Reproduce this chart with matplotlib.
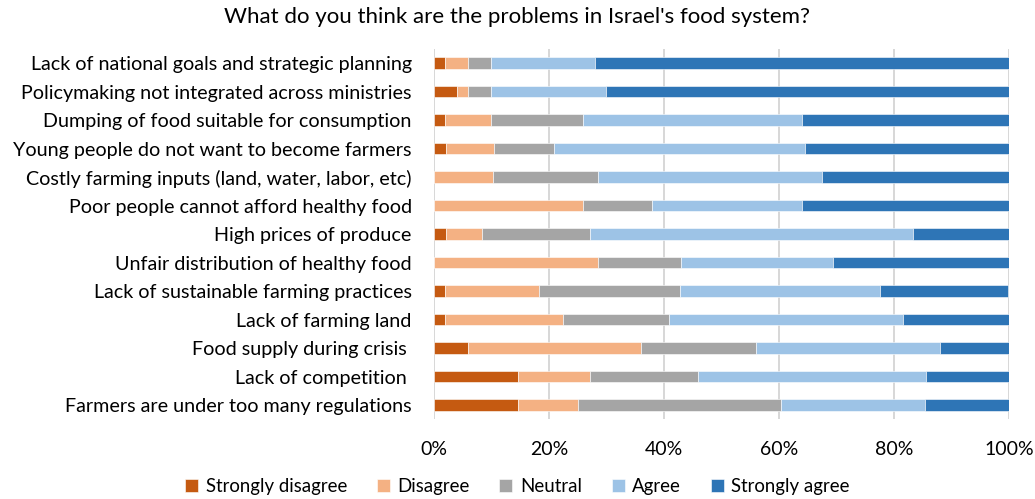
import numpy as np
import matplotlib.pyplot as plt
from matplotlib.ticker import PercentFormatter

plt.rcParams['font.family'] = ['Lato', 'DejaVu Sans']

# categories, top to bottom as shown
categories = [
    "Lack of national goals and strategic planning",
    "Policymaking not integrated across ministries",
    "Dumping of food suitable for consumption",
    "Young people do not want to become farmers",
    "Costly farming inputs (land, water, labor, etc)",
    "Poor people cannot afford healthy food",
    "High prices of produce",
    "Unfair distribution of healthy food",
    "Lack of sustainable farming practices",
    "Lack of farming land",
    "Food supply during crisis ",
    "Lack of competition ",
    "Farmers are under too many regulations",
]

# shares in percent
strongly_disagree = [2.0, 4.0, 2.0, 2.1, 0.0, 0.0, 2.1, 0.0, 2.0, 2.0, 6.0, 14.6, 14.6]
disagree          = [4.0, 2.0, 8.0, 8.3, 10.2, 26.0, 6.2, 28.6, 16.3, 20.4, 30.0, 12.5, 10.4]
neutral           = [4.0, 4.0, 16.0, 10.4, 18.4, 12.0, 18.8, 14.3, 24.5, 18.4, 20.0, 18.8, 35.4]
agree             = [18.0, 20.0, 38.0, 43.8, 38.8, 26.0, 56.2, 26.5, 34.7, 40.8, 32.0, 39.6, 25.0]
strongly_agree    = [72.0, 70.0, 36.0, 35.4, 32.6, 36.0, 16.7, 30.6, 22.4, 18.4, 12.0, 14.6, 14.6]

series = [
    ("Strongly disagree", strongly_disagree, "#C55A11"),
    ("Disagree", disagree, "#F4B183"),
    ("Neutral", neutral, "#A5A5A5"),
    ("Agree", agree, "#9DC3E6"),
    ("Strongly agree", strongly_agree, "#2E75B6"),
]

fig = plt.figure(figsize=(10.35, 4.99), dpi=100)
ax = fig.add_axes([0.4193, 0.1598, 0.5556, 0.7425])

y = np.arange(len(categories))
left = np.zeros(len(categories))
for name, vals, col in series:
    vals = np.array(vals)
    ax.barh(y, vals, left=left, height=0.42, color=col, label=name,
            edgecolor='white', linewidth=0.4, zorder=3)
    left += vals

ax.set_xlim(0, 100)
ax.set_ylim(len(categories) - 0.5, -0.5)
ax.set_yticks(y)
ax.set_yticklabels(categories, fontsize=14.2)
ax.set_xticks(np.arange(0, 101, 20))
ax.xaxis.set_major_formatter(PercentFormatter(decimals=0))
ax.tick_params(axis='x', labelsize=14, length=0, pad=16)
ax.tick_params(axis='y', length=0, pad=16)
ax.grid(axis='x', color='#D4D4D4', linewidth=1.3, zorder=0)
for s in ax.spines.values():
    s.set_visible(False)

fig.suptitle("What do you think are the problems in Israel's food system?",
             fontsize=16, y=0.985)

fig.legend(loc='lower center', ncol=5, frameon=False, fontsize=13.4,
           bbox_to_anchor=(0.5, -0.025), handlelength=0.7, handleheight=0.7,
           columnspacing=1.6, handletextpad=0.4)

fig.savefig('out.png', dpi=100)
